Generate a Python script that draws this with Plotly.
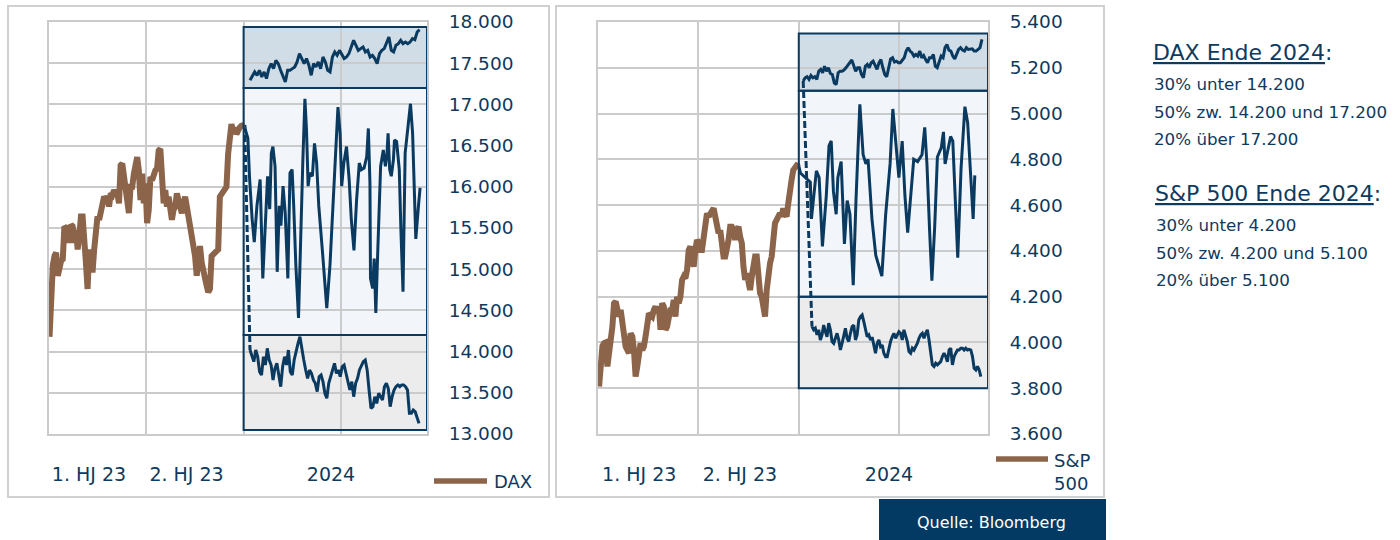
import pandas as pd
import plotly.graph_objects as go

# ---------------- DATA ----------------
# DAX 2023 (history)
dax_2023 = [14180, 14800, 15050, 15160, 15200, 14920, 15060, 15100, 15120, 15520, 15500, 15520, 15320, 15540,
            15520, 15320, 15480, 15240, 15400, 15640, 15640, 15440, 15080, 14760, 15240, 15120, 14960, 15240,
            15560, 15640, 15600, 15700, 15800, 15880, 15850, 15880, 15760, 15920, 15900, 15960, 15920, 15920,
            15800, 16260, 16280, 16120, 15960, 15800, 15680, 16000, 16000, 16160, 16320, 16360, 16200, 15840,
            16160, 15800, 16040, 15560, 15720, 16120, 16080, 16160, 16200, 16220, 16440, 16460, 16080, 15800,
            15960, 15760, 15880, 15680, 15600, 15720, 15760, 15920, 15840, 15720, 15680, 15800, 15880, 15760,
            15640, 15560, 15360, 15240, 15160, 14920, 15160, 15280, 15080, 14960, 14840, 14800, 14720, 14760,
            15160, 15180, 15200, 15200, 15240, 15880, 15920, 15960, 16000, 16000, 16400, 16680, 16760, 16680,
            16720, 16640, 16700, 16720, 16740, 16750, 16750]
dax_hist_span = ["2023-01-02", "2024-01-03"]

# DAX 2024 scenarios
dax_top = [17292, 17353, 17394, 17353, 17414, 17333, 17394, 17313, 17434, 17495, 17434, 17535, 17495, 17414,
           17333, 17272, 17414, 17414, 17434, 17454, 17515, 17616, 17556, 17495, 17556, 17475, 17353, 17495,
           17454, 17515, 17434, 17575, 17515, 17414, 17394, 17575, 17636, 17596, 17656, 17596, 17556, 17575,
           17616, 17697, 17778, 17717, 17656, 17677, 17697, 17636, 17656, 17575, 17596, 17556, 17495, 17616,
           17656, 17677, 17737, 17818, 17656, 17636, 17717, 17737, 17778, 17737, 17757, 17737, 17757, 17798,
           17786, 17879, 17907]
dax_top_span = ["2024-01-13", "2024-11-26"]

dax_mid_day = [3, 8, 11, 16, 20, 25, 31, 36, 41, 45, 49, 52, 55, 59, 63, 67, 70, 74, 78, 83, 87, 91, 94, 98,
               103, 107, 111, 115, 118, 121, 124, 129, 133, 137, 141, 148, 156, 162, 168, 173, 177, 181, 184,
               188, 193, 198, 202, 207, 212, 217, 221, 226, 231, 234, 237, 238, 242, 245, 248, 252, 257, 262,
               266, 269, 271, 274, 277, 281, 283, 287, 292, 295, 299, 303, 308, 313, 317, 320, 323, 328, 331]
dax_mid = [16700, 16588, 16128, 15608, 15328, 15768, 16088, 14888, 15688, 16128, 15728, 16408, 16488, 16248,
           14968, 15768, 15528, 16008, 15688, 14888, 16168, 16208, 15768, 15048, 14408, 15488, 16288, 17068,
           16688, 16008, 16168, 16128, 16528, 16288, 15768, 15208, 14528, 15048, 15888, 16488, 16968, 16648,
           16008, 16288, 16488, 16088, 15608, 15228, 15848, 16288, 16208, 16228, 16368, 16708, 16048, 14888,
           14768, 15128, 14468, 15288, 16248, 16448, 16248, 16408, 16648, 16208, 16128, 16328, 16568, 16548,
           16208, 15488, 14728, 16408, 16688, 17008, 16648, 15888, 15368, 15768, 15988]

dax_bot = [14019, 13938, 13878, 14019, 13938, 13756, 13716, 13938, 13837, 14040, 13898, 13837, 13655, 13797,
           13858, 13716, 13574, 13817, 13938, 13837, 14019, 13756, 13716, 13898, 14019, 14100, 14180, 14019,
           13898, 13777, 13676, 13777, 13736, 13655, 13615, 13514, 13696, 13716, 13635, 13494, 13433, 13615,
           13696, 13777, 13858, 13736, 13777, 13696, 13817, 13837, 13736, 13655, 13534, 13635, 13453, 13615,
           13676, 13777, 13837, 13878, 13898, 13777, 13534, 13312, 13332, 13453, 13372, 13494, 13453, 13413,
           13574, 13615, 13554, 13332, 13453, 13534, 13574, 13595, 13574, 13595, 13595, 13574, 13534, 13251,
           13251, 13291, 13271, 13211, 13129]
dax_bot_span = ["2024-01-13", "2024-11-25"]
dax_bands = [13050, 14200, 17200, 17940]

# S&P 500 2023 (history)
spx_2023 = [3807, 3930, 3985, 3997, 4000, 3895, 3997, 4011, 4069, 4171, 4178, 4142, 4113, 4142, 4084, 4011,
            3982, 3967, 3953, 4040, 4026, 3967, 3851, 3895, 3938, 3997, 3967, 3982, 4026, 4113, 4127, 4120,
            4113, 4142, 4157, 4127, 4157, 4055, 4171, 4157, 4055, 4069, 4142, 4149, 4142, 4186, 4113, 4200,
            4171, 4200, 4273, 4288, 4280, 4317, 4404, 4419, 4375, 4331, 4404, 4448, 4433, 4404, 4404, 4462,
            4521, 4564, 4550, 4564, 4579, 4586, 4550, 4491, 4477, 4491, 4433, 4375, 4375, 4404, 4448, 4506,
            4506, 4491, 4448, 4491, 4506, 4462, 4433, 4331, 4273, 4302, 4273, 4229, 4288, 4346, 4375, 4375,
            4288, 4215, 4200, 4127, 4113, 4229, 4317, 4346, 4375, 4477, 4521, 4535, 4550, 4564, 4550, 4586,
            4564, 4550, 4608, 4695, 4710, 4753, 4768, 4775, 4783]
spx_hist_span = ["2023-01-03", "2023-12-31"]

# S&P 500 2024 scenarios
spx_top = [5142, 5156, 5161, 5149, 5166, 5156, 5161, 5149, 5185, 5193, 5178, 5207, 5185, 5200, 5175, 5171,
           5134, 5127, 5178, 5185, 5185, 5190, 5200, 5210, 5222, 5234, 5210, 5185, 5200, 5200, 5171, 5156,
           5207, 5215, 5200, 5222, 5229, 5207, 5193, 5222, 5236, 5200, 5171, 5161, 5207, 5239, 5244, 5225,
           5229, 5222, 5222, 5236, 5244, 5273, 5288, 5273, 5266, 5251, 5258, 5251, 5273, 5244, 5254, 5236,
           5222, 5244, 5244, 5258, 5207, 5200, 5229, 5251, 5244, 5288, 5302, 5277, 5273, 5251, 5239, 5258,
           5280, 5288, 5277, 5273, 5288, 5280, 5280, 5283, 5273, 5273, 5280, 5288, 5324]
spx_top_span = ["2024-01-09", "2024-11-29"]

spx_mid_day = [3, 21, 23, 32, 37, 43, 50, 55, 59, 63, 68, 71, 77, 83, 88, 93, 99, 104, 111, 117, 122, 126,
               133, 140, 151, 158, 166, 171, 177, 182, 188, 193, 198, 204, 209, 216, 224, 229, 233, 238, 242,
               247, 252, 259, 263, 266, 272, 276, 280, 284, 289, 295, 302, 307, 313, 317, 320]
spx_mid = [4740, 4700, 4540, 4750, 4720, 4420, 4640, 4860, 4880, 4660, 4560, 4720, 4790, 4430, 4620, 4560,
           4250, 4620, 5040, 4820, 4780, 4800, 4540, 4380, 4290, 4560, 4780, 5020, 4860, 4720, 4880, 4640,
           4480, 4640, 4800, 4790, 4820, 4940, 4780, 4480, 4270, 4500, 4810, 4850, 4920, 4780, 4860, 4900,
           4880, 4620, 4370, 4760, 5030, 4960, 4720, 4540, 4730]

spx_bot = [4069, 4055, 4062, 4033, 4055, 4011, 4033, 4076, 4047, 4025, 4084, 4055, 4004, 3996, 4018, 4040,
           4011, 3967, 3996, 4033, 4062, 4018, 4004, 4040, 4069, 4076, 4011, 4033, 4098, 4113, 4120, 4091,
           4055, 4025, 4033, 4011, 4023, 3982, 3953, 3996, 4011, 3982, 3989, 3953, 3938, 3938, 3975, 4004,
           4025, 4040, 4018, 4033, 4047, 4040, 4011, 4055, 4025, 4004, 3960, 3953, 3975, 3967, 3982, 3996,
           4018, 4033, 4040, 4018, 4040, 4055, 4011, 3953, 3902, 3895, 3909, 3902, 3909, 3916, 3938, 3953,
           3938, 3916, 3967, 3975, 3902, 3938, 3953, 3967, 3967, 3975, 3975, 3967, 3975, 3967, 3970, 3967,
           3938, 3887, 3880, 3895, 3880, 3851]
spx_bot_span = ["2024-01-25", "2024-11-27"]
spx_bands = [3800, 4200, 5100, 5350]

x_range = ["2023-01-01", "2024-12-10"]
grid_dates = ["2023-07-01", "2024-01-01", "2024-07-01"]
label_dates = ["2023-03-17", "2023-09-16", "2024-06-13"]
label_text = ["1. HJ 23", "2. HJ 23", "2024"]

side_texts = [
    ("<u>DAX Ende 2024</u>:", ["30% unter 14.200", "50% zw. 14.200 und 17.200", "20% über 17.200"]),
    ("<u>S&P 500 Ende 2024</u>:", ["30% unter 4.200", "50% zw. 4.200 und 5.100", "20% über 5.100"]),
]

# ---------------- STYLE ----------------
W, H = 1400, 540
NAVY = "#0b3a60"
BROWN = "#8c644a"
GRID = "#cbcbcb"
TEXT = "#0e3a5e"
FONT = "DejaVu Sans"
FILL_TOP = "#d0dde6"
FILL_MID = "#f2f6fa"
FILL_BOT = "#ececec"


def px(v):
    return v / W


def py(v):
    return 1 - v / H


def dates_between(span, n):
    return pd.date_range(span[0], span[1], periods=n)


def days_2024(days):
    return pd.Timestamp("2024-01-01") + pd.to_timedelta(days, unit="D")


fig = go.Figure()

panels = [
    dict(xa="x", ya="y", hist=dax_2023, hist_span=dax_hist_span, top=dax_top, top_span=dax_top_span,
         mid_day=dax_mid_day, mid=dax_mid, bot=dax_bot, bot_span=dax_bot_span, bands=dax_bands,
         name="DAX", dash_from_top=False),
    dict(xa="x2", ya="y2", hist=spx_2023, hist_span=spx_hist_span, top=spx_top, top_span=spx_top_span,
         mid_day=spx_mid_day, mid=spx_mid, bot=spx_bot, bot_span=spx_bot_span, bands=spx_bands,
         name="S&P 500", dash_from_top=True),
]

shapes = []
for p in panels:
    hx = dates_between(p["hist_span"], len(p["hist"]))
    tx = dates_between(p["top_span"], len(p["top"]))
    bx = dates_between(p["bot_span"], len(p["bot"]))
    mx = days_2024(p["mid_day"])
    line_kw = dict(color=NAVY, width=3)
    if p["dash_from_top"]:
        dx = [tx[0], bx[0]]
        dy = [p["top"][0], p["bot"][0]]
    else:
        dx = [hx[-1], bx[0]]
        dy = [p["hist"][-1], p["bot"][0]]
    fig.add_trace(go.Scatter(x=dx, y=dy, mode="lines", line=dict(color=NAVY, width=3, dash="7px,3px"),
                             xaxis=p["xa"], yaxis=p["ya"], showlegend=False))
    fig.add_trace(go.Scatter(x=tx, y=p["top"], mode="lines", line=line_kw, xaxis=p["xa"], yaxis=p["ya"],
                             showlegend=False))
    fig.add_trace(go.Scatter(x=[hx[-1]] + list(mx), y=[p["hist"][-1]] + p["mid"], mode="lines", line=line_kw,
                             xaxis=p["xa"], yaxis=p["ya"], showlegend=False))
    fig.add_trace(go.Scatter(x=bx, y=p["bot"], mode="lines", line=line_kw, xaxis=p["xa"], yaxis=p["ya"],
                             showlegend=False))
    fig.add_trace(go.Scatter(x=hx, y=p["hist"], mode="lines", line=dict(color=BROWN, width=6),
                             xaxis=p["xa"], yaxis=p["ya"], name=p["name"], showlegend=False))
    b = p["bands"]
    fills = [FILL_BOT, FILL_MID, FILL_TOP]
    for i in range(3):
        shapes.append(dict(type="rect", xref=p["xa"], yref=p["ya"], x0="2024-01-01", x1=x_range[1],
                           y0=b[i], y1=b[i + 1], fillcolor=fills[i], line=dict(width=0), layer="below"))
        shapes.append(dict(type="rect", xref=p["xa"], yref=p["ya"], x0="2024-01-01", x1=x_range[1],
                           y0=b[i], y1=b[i + 1], fillcolor="rgba(0,0,0,0)", line=dict(color=NAVY, width=2),
                           layer="above"))

# outer panel frames
shapes += [
    dict(type="rect", xref="paper", yref="paper", x0=px(8), x1=px(549), y0=py(497), y1=py(6),
         line=dict(color="#d0d0d0", width=2), layer="below"),
    dict(type="rect", xref="paper", yref="paper", x0=px(556), x1=px(1104), y0=py(497), y1=py(6),
         line=dict(color="#d0d0d0", width=2), layer="below"),
    dict(type="rect", xref="paper", yref="paper", x0=px(879), x1=px(1106), y0=py(540), y1=py(499),
         fillcolor="#033a63", line=dict(width=0)),
    # legend samples
    dict(type="line", xref="paper", yref="paper", x0=px(434), x1=px(487), y0=py(481), y1=py(481),
         line=dict(color=BROWN, width=5.5)),
    dict(type="line", xref="paper", yref="paper", x0=px(996), x1=px(1048), y0=py(459), y1=py(459),
         line=dict(color=BROWN, width=5.5)),
]

annotations = [
    dict(text="DAX", x=px(492), y=py(481), xref="paper", yref="paper", xanchor="left", yanchor="middle",
         showarrow=False, font=dict(family=FONT, size=18, color=TEXT)),
    dict(text="S&P<br>500", x=px(1052), y=py(448), xref="paper", yref="paper", xanchor="left", yanchor="top",
         align="left", showarrow=False, font=dict(family=FONT, size=18, color=TEXT)),
    dict(text="Quelle: Bloomberg", x=px(992), y=py(522), xref="paper", yref="paper", xanchor="center",
         yanchor="middle", showarrow=False, font=dict(family=FONT, size=16, color="white")),
]
head_y = [52, 193]
head_x = [1151, 1153]
for (head, lines), hy, hx0 in zip(side_texts, head_y, head_x):
    annotations.append(dict(text=head, x=px(hx0), y=py(hy), xref="paper", yref="paper", xanchor="left",
                            yanchor="middle", showarrow=False, font=dict(family=FONT, size=22, color=TEXT)))
    for k, t in enumerate(lines):
        annotations.append(dict(text=t, x=px(hx0 + 1), y=py(hy + 32 + 27.7 * k), xref="paper", yref="paper",
                                xanchor="left", yanchor="middle", showarrow=False,
                                font=dict(family=FONT, size=16.7, color=TEXT)))

xcommon = dict(type="date", range=x_range, tickmode="array", tickvals=label_dates, ticktext=label_text,
               showgrid=False, ticks="", showline=True, mirror=True, linecolor=GRID, linewidth=2,
               tickfont=dict(family=FONT, size=19, color=TEXT), ticklabelstandoff=22, automargin=False,
               minor=dict(tickmode="array", tickvals=grid_dates, showgrid=True, gridcolor=GRID, gridwidth=2,
                          ticks=""),
               zeroline=False, fixedrange=True)
ycommon = dict(side="right", showgrid=True, gridcolor=GRID, gridwidth=2, ticks="", showline=True, mirror=True,
               linecolor=GRID, linewidth=2, zeroline=False, tickformat=",d", automargin=False,
               tickfont=dict(family=FONT, size=18.5, color=TEXT), ticklabelstandoff=16)

ydom = [py(434), py(22)]
fig.update_layout(
    width=W, height=H, margin=dict(l=0, r=0, t=0, b=0, autoexpand=False),
    paper_bgcolor="white", plot_bgcolor="white", separators=",.",
    showlegend=False,
    xaxis=dict(domain=[px(49), px(427)], anchor="y", **xcommon),
    yaxis=dict(domain=ydom, anchor="x", range=[13000, 18000], dtick=500, tick0=13000, **ycommon),
    xaxis2=dict(domain=[px(598), px(988)], anchor="y2", **xcommon),
    yaxis2=dict(domain=ydom, anchor="x2", range=[3600, 5400], dtick=200, tick0=3600, **ycommon),
    shapes=shapes, annotations=annotations,
)

fig.write_html("out.html")
